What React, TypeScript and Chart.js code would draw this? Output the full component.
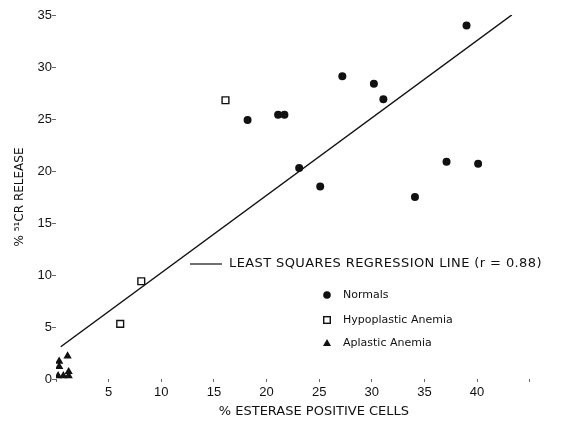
import React, { useEffect, useRef } from "react";
import { Chart, registerables } from "chart.js";

Chart.register(...registerables);

// % esterase positive cells (x) vs % 51Cr release (y)
const normalsX = [18.2, 21.1, 21.7, 23.1, 25.1, 27.2, 30.2, 31.1, 34.1, 37.1, 39.0, 40.1];
const normalsY = [24.9, 25.4, 25.4, 20.3, 18.5, 29.1, 28.4, 26.9, 17.5, 20.9, 34.0, 20.7];
const hypoX = [6.1, 8.1, 16.1];
const hypoY = [5.3, 9.4, 26.8];
const aplasticX = [0.3, 0.3, 1.1, 0.2, 0.7, 1.2, 1.2];
const aplasticY = [1.7, 1.2, 2.2, 0.3, 0.3, 0.3, 0.7];
const regressionX = [0.45, 43.3];
const regressionY = [3.1, 35.0];

const xTicksShown = [5, 10, 15, 20, 25, 30, 35, 40];
const yTicks = [0, 5, 10, 15, 20, 25, 30, 35];

const legendLabels = ["Normals", "Hypoplastic Anemia", "Aplastic Anemia"];
const regressionLabel = "LEAST SQUARES REGRESSION LINE (r = 0.88)";
const xTitle = "% ESTERASE POSITIVE CELLS";
const yTitle = "% \u2075\u00b9CR RELEASE";

const zip = (xs: number[], ys: number[]) => xs.map((x, i) => ({ x, y: ys[i] }));

const legendPlugin = {
  id: "customLegend",
  afterDraw(chart: any) {
    const ctx = chart.ctx as CanvasRenderingContext2D;
    ctx.save();
    ctx.fillStyle = "#111";
    ctx.strokeStyle = "#111";
    // regression line entry
    ctx.lineWidth = 1.2;
    ctx.beginPath();
    ctx.moveTo(190, 264);
    ctx.lineTo(222, 264);
    ctx.stroke();
    ctx.font = "13px 'DejaVu Sans'";
    ctx.textBaseline = "middle";
    ctx.textAlign = "left";
    try { (ctx as any).letterSpacing = "0.4px"; } catch (e) {}
    ctx.fillText(regressionLabel, 229, 264);
    try { (ctx as any).letterSpacing = "0px"; } catch (e) {}

    const rows = [295, 320, 343];
    const mx = 327;
    // circle
    ctx.beginPath();
    ctx.arc(mx, rows[0], 3.8, 0, Math.PI * 2);
    ctx.fill();
    // square
    ctx.lineWidth = 1.4;
    ctx.fillStyle = "#fff";
    ctx.fillRect(mx - 3.3, rows[1] - 3.3, 6.6, 6.6);
    ctx.strokeRect(mx - 3.3, rows[1] - 3.3, 6.6, 6.6);
    ctx.fillStyle = "#111";
    // triangle
    ctx.beginPath();
    ctx.moveTo(mx, rows[2] - 4);
    ctx.lineTo(mx + 4, rows[2] + 3);
    ctx.lineTo(mx - 4, rows[2] + 3);
    ctx.closePath();
    ctx.fill();

    ctx.font = "11px 'DejaVu Sans'";
    legendLabels.forEach((t, i) => ctx.fillText(t, 343, rows[i]));
    ctx.restore();
  },
};

export default function App() {
  const ref = useRef<HTMLCanvasElement | null>(null);

  useEffect(() => {
    if (!ref.current) return;
    const chart = new Chart(ref.current, {
      type: "scatter",
      data: {
        datasets: [
          {
            label: "Normals",
            data: zip(normalsX, normalsY),
            pointStyle: "circle",
            radius: 4,
            backgroundColor: "#111",
            borderColor: "#111",
            borderWidth: 0,
          },
          {
            label: "Hypoplastic Anemia",
            data: zip(hypoX, hypoY),
            pointStyle: "rect",
            radius: 4.8,
            backgroundColor: "#fff",
            borderColor: "#111",
            borderWidth: 1.4,
          },
          {
            label: "Aplastic Anemia",
            data: zip(aplasticX, aplasticY),
            pointStyle: "triangle",
            radius: 4.8,
            backgroundColor: "#111",
            borderColor: "#111",
            borderWidth: 0,
          },
          {
            type: "line",
            label: "Least squares regression line",
            data: zip(regressionX, regressionY),
            borderColor: "#111",
            borderWidth: 1.5,
            pointRadius: 0,
            showLine: true,
            fill: false,
          } as any,
        ],
      },
      options: {
        animation: false,
        responsive: false,
        layout: { padding: { top: 15, right: 0, left: 0, bottom: 0 } },
        plugins: { legend: { display: false }, tooltip: { enabled: false } },
        scales: {
          x: {
            type: "linear",
            min: 0,
            max: 49,
            ticks: {
              stepSize: 5,
              includeBounds: false,
              padding: 3,
              color: "#111",
              font: { family: "'Liberation Sans'", size: 13 },
              maxRotation: 0,
              callback: (v: any) => (xTicksShown.includes(Number(v)) ? String(v) : ""),
            },
            grid: { drawOnChartArea: false, drawTicks: true, tickLength: 3, color: "#666" },
            border: { display: false },
            title: {
              display: true,
              text: xTitle,
              color: "#111",
              font: { family: "'DejaVu Sans'", size: 13 },
              padding: { top: 0, bottom: 7 },
            },
            afterFit: (s: any) => {
              s.height = 47;
            },
          },
          y: {
            type: "linear",
            min: 0,
            max: 35,
            afterBuildTicks: (s: any) => {
              s.ticks = yTicks.map((v) => ({ value: v }));
            },
            ticks: {
              padding: 0,
              color: "#111",
              font: { family: "'Liberation Sans'", size: 13 },
            },
            grid: { drawOnChartArea: false, drawTicks: true, tickLength: 4, color: "#666" },
            border: { display: false },
            title: {
              display: true,
              text: yTitle,
              color: "#111",
              font: { family: "'DejaVu Sans'", size: 12 },
              padding: { top: 13, bottom: 0 },
            },
            afterFit: (s: any) => {
              s.width = 56;
            },
          },
        },
      },
      plugins: [legendPlugin],
    });
    return () => chart.destroy();
  }, []);

  return (
    <div style={{ position: "absolute", left: 0, top: 0, width: 578, height: 426, background: "#fff" }}>
      <canvas ref={ref} width={578} height={426} />
    </div>
  );
}
